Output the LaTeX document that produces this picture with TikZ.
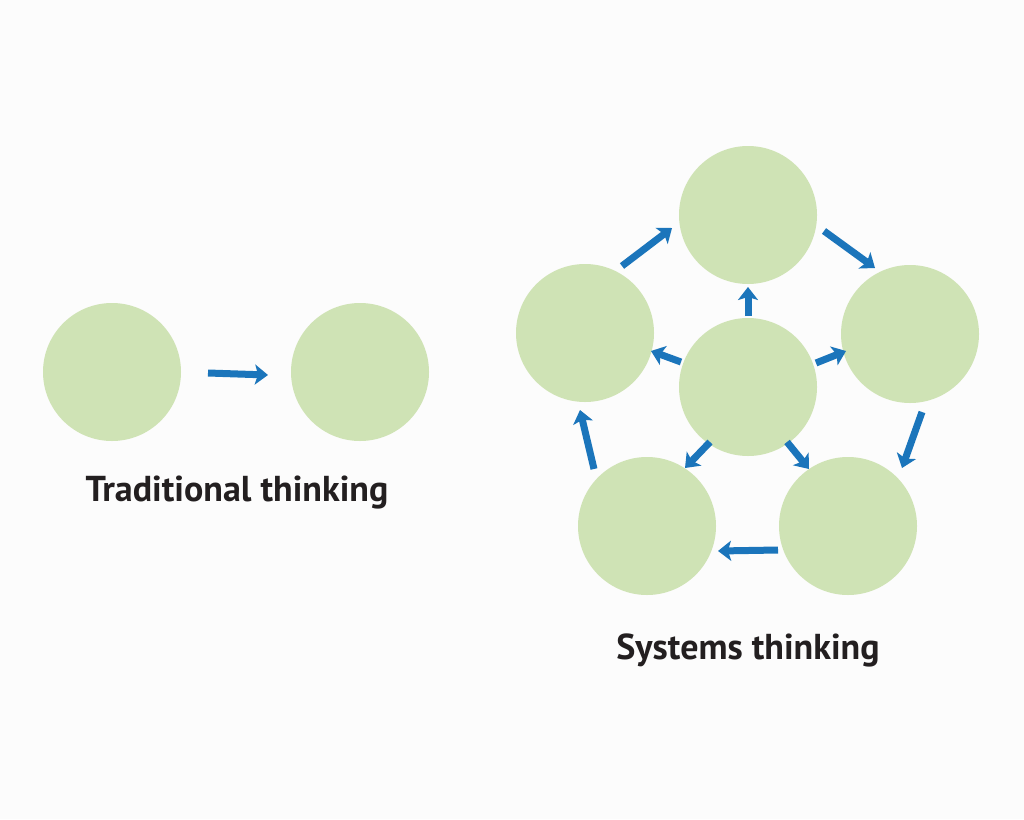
\documentclass[tikz,border=0pt]{standalone}
\usepackage{fontspec}
\setmainfont{PT Sans}
\usetikzlibrary{arrows.meta}
\definecolor{cfill}{HTML}{CFE3B5}
\definecolor{ablue}{HTML}{1B75BB}
\definecolor{txt}{HTML}{231F20}
\begin{document}
\begin{tikzpicture}[x=1pt,y=-1pt,
  circ/.style={circle,fill=cfill,minimum size=138pt,inner sep=0pt},
  arr/.style={draw=ablue,line width=7pt,-{Stealth[length=13pt,width=20pt,inset=3pt]}},
  lab/.style={font=\bfseries\fontsize{36}{40}\selectfont,text=txt}]
\fill[white!99!black] (0,0) rectangle (1024,819);
\useasboundingbox (0,0) rectangle (1024,819);
\node[circ] (t1) at (112,372) {};
\node[circ] (t2) at (360,372) {};
\node[circ] (top) at (748,215) {};
\node[circ] (lft) at (585,333) {};
\node[circ] (rgt) at (910,334) {};
\node[circ] (ctr) at (748,387) {};
\node[circ] (bl) at (647,526) {};
\node[circ] (br) at (848,526) {};
\node[lab] (l1) at (237,493) {Traditional thinking};
\node[lab] (l2) at (748,650) {Systems thinking};
\coordinate (a1s) at (208,373); \coordinate (a1e) at (268,375);
\draw[arr] (a1s) -- (a1e);
\coordinate (b1s) at (622,266); \coordinate (b1e) at (672,228);
\coordinate (b2s) at (824,231); \coordinate (b2e) at (875,268);
\coordinate (b3s) at (922,412); \coordinate (b3e) at (902,468);
\coordinate (b4s) at (778,550); \coordinate (b4e) at (718,551);
\coordinate (b5s) at (594,469); \coordinate (b5e) at (580,410);
\draw[arr] (b1s) -- (b1e);
\draw[arr] (b2s) -- (b2e);
\draw[arr] (b3s) -- (b3e);
\draw[arr] (b4s) -- (b4e);
\draw[arr] (b5s) -- (b5e);
\coordinate (c1s) at (748,316); \coordinate (c1e) at (748,287);
\coordinate (c2s) at (681,362); \coordinate (c2e) at (651,351);
\coordinate (c3s) at (816,363); \coordinate (c3e) at (846,351);
\coordinate (c4s) at (710,442); \coordinate (c4e) at (685,468);
\coordinate (c5s) at (787,442); \coordinate (c5e) at (809,469);
\draw[arr] (c1s) -- (c1e);
\draw[arr] (c2s) -- (c2e);
\draw[arr] (c3s) -- (c3e);
\draw[arr] (c4s) -- (c4e);
\draw[arr] (c5s) -- (c5e);
\end{tikzpicture}
\end{document}
